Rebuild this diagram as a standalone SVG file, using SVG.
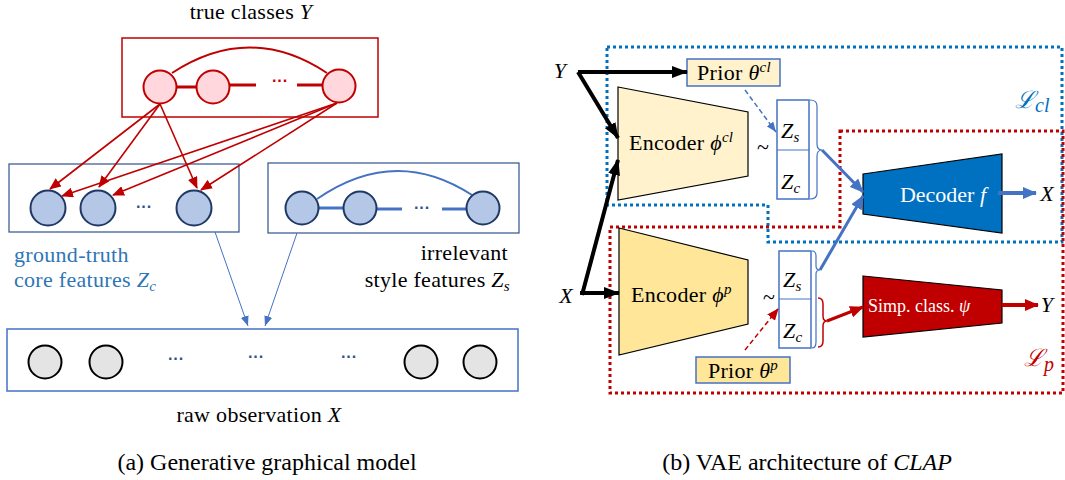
<svg xmlns="http://www.w3.org/2000/svg" width="1065" height="480" viewBox="0 0 1065 480">
<defs>
<style>
.t{font-family:"Liberation Serif",serif;font-size:22px;fill:#000;letter-spacing:0.3px}
.cap{font-family:"Liberation Serif",serif;font-size:24px;fill:#000}
.i{font-style:italic}
.sb{font-size:15px;font-style:italic}
.rc{fill:#FFD7DD;stroke:#C00000;stroke-width:2}
.bc{fill:#B4C7E7;stroke:#1F3864;stroke-width:2}
.gc{fill:#E4E4E4;stroke:#000;stroke-width:2}
.rl{stroke:#C00000;fill:none}
.bl{stroke:#4472C4;fill:none}
.blk{stroke:#000;fill:none;stroke-width:4}
.dotB{stroke:#0070C0;stroke-width:3;stroke-dasharray:3 3;fill:none}
.dotR{stroke:#C00000;stroke-width:3;stroke-dasharray:3 3;fill:none}
.zb{fill:#fff;stroke:#4472C4;stroke-width:1.5}
.dots{font-family:"Liberation Sans",sans-serif;font-size:16px;font-weight:bold;text-anchor:middle}
</style>
<marker id="ar" markerUnits="userSpaceOnUse" markerWidth="12" markerHeight="10" refX="11" refY="5" orient="auto"><path d="M0,0 L12,5 L0,10 z" fill="#C00000"/></marker>
<marker id="ab" markerUnits="userSpaceOnUse" markerWidth="10" markerHeight="8" refX="10" refY="4" orient="auto"><path d="M0,0 L10,4 L0,8 z" fill="#4472C4"/></marker>
<marker id="abb" markerUnits="userSpaceOnUse" markerWidth="14" markerHeight="12" refX="13" refY="6" orient="auto"><path d="M0,0 L14,6 L0,12 z" fill="#4472C4"/></marker>
<marker id="ak" markerUnits="userSpaceOnUse" markerWidth="16" markerHeight="12" refX="15" refY="6" orient="auto"><path d="M0,0 L16,6 L0,12 z" fill="#000"/></marker>
<marker id="arr" markerUnits="userSpaceOnUse" markerWidth="14" markerHeight="12" refX="13" refY="6" orient="auto"><path d="M0,0 L14,6 L0,12 z" fill="#C00000"/></marker>
</defs>

<!-- ===== Panel (a) ===== -->
<text class="t" x="251" y="19" text-anchor="middle">true classes <tspan class="i">Y</tspan></text>

<g id="true-classes">
<rect x="122" y="38" width="256" height="79" fill="none" stroke="#C00000" stroke-width="1.5"/>
<path class="rl" stroke-width="2" d="M172,73 Q250,22 327,73"/>
<line class="rl" x1="176" y1="87" x2="197" y2="87" stroke-width="3"/>
<line class="rl" x1="229" y1="85" x2="256" y2="85" stroke-width="3"/>
<line class="rl" x1="297" y1="85" x2="323" y2="85" stroke-width="3"/>
<circle class="rc" cx="160" cy="87" r="16.5"/>
<circle class="rc" cx="213" cy="87" r="16.5"/>
<circle class="rc" cx="339" cy="86" r="16.5"/>
<text class="dots" x="280" y="86" fill="#C00000">···</text>
</g>

<g id="core-features">
<rect x="9" y="164" width="230" height="68" fill="none" stroke="#2F528F" stroke-width="1.2"/>
<circle class="bc" cx="48" cy="208" r="17.5"/>
<circle class="bc" cx="98" cy="208" r="17.5"/>
<circle class="bc" cx="194" cy="208" r="17.5"/>
<text class="dots" x="144" y="212" fill="#2F528F">···</text>
<text class="t" x="14" y="262" style="fill:#2E75B6">ground-truth</text>
<text class="t" x="14" y="287" style="fill:#2E75B6">core features <tspan class="i">Z</tspan><tspan class="sb" dy="4">c</tspan></text>
</g>

<g id="style-features">
<rect x="268" y="163" width="251" height="70" fill="none" stroke="#2F528F" stroke-width="1.2"/>
<path class="bl" stroke-width="2" d="M317,199 Q395,145 472,195"/>
<line class="bl" x1="318" y1="208" x2="344" y2="208" stroke-width="3"/>
<line class="bl" x1="376" y1="209" x2="402" y2="209" stroke-width="3"/>
<line class="bl" x1="442" y1="209" x2="466" y2="209" stroke-width="3"/>
<circle class="bc" cx="302" cy="208" r="16.5"/>
<circle class="bc" cx="360" cy="208" r="16.5"/>
<circle class="bc" cx="483" cy="208" r="16.5"/>
<text class="dots" x="422" y="213" fill="#2F528F">···</text>
<text class="t" x="508" y="260" text-anchor="end">irrelevant</text>
<text class="t" x="510" y="287" text-anchor="end">style features <tspan class="i">Z</tspan><tspan class="sb" dy="4">s</tspan></text>
</g>

<g id="raw-observation">
<rect x="7" y="329" width="511" height="62" fill="none" stroke="#4472C4" stroke-width="1.5"/>
<circle class="gc" cx="45" cy="362" r="16.5"/>
<circle class="gc" cx="106" cy="362" r="16.5"/>
<circle class="gc" cx="421" cy="362" r="16.5"/>
<circle class="gc" cx="480" cy="362" r="16.5"/>
<text class="dots" x="176" y="364" fill="#2F528F">···</text>
<text class="dots" x="256" y="362" fill="#2F528F">···</text>
<text class="dots" x="349" y="362" fill="#2F528F">···</text>
<text class="t" x="259" y="422" text-anchor="middle">raw observation <tspan class="i">X</tspan></text>
</g>

<g id="connectors-a">
<g class="rl" stroke-width="1.6" marker-end="url(#ar)">
<line x1="160" y1="104" x2="50" y2="189"/>
<line x1="160" y1="104" x2="99" y2="187"/>
<line x1="160" y1="104" x2="197" y2="188"/>
<line x1="337" y1="103" x2="62" y2="196"/>
<line x1="337" y1="103" x2="113" y2="195"/>
<line x1="337" y1="103" x2="201" y2="190"/>
</g>
<g class="bl" stroke-width="1" marker-end="url(#ab)">
<line x1="215" y1="232" x2="248" y2="326"/>
<line x1="297" y1="233" x2="265" y2="326"/>
</g>
</g>

<text class="cap" x="267" y="470" text-anchor="middle">(a)  Generative graphical model</text>

<!-- ===== Panel (b) ===== -->
<g id="loss-cl">
<polygon class="dotB" points="607,47 1062,47 1062,242 768,242 768,205 607,205"/>
<text x="1015" y="108" font-family="DejaVu Serif,serif" font-style="italic" font-size="24" fill="#0070C0">ℒ<tspan font-family="Liberation Serif,serif" font-size="20" dy="4">cl</tspan></text>
</g>
<g id="loss-p">
<polygon class="dotR" points="840,131 1063,131 1063,393 610,393 610,227 840,227"/>
<text x="1024" y="366" font-family="DejaVu Serif,serif" font-style="italic" font-size="24" fill="#C00000">ℒ<tspan font-family="Liberation Serif,serif" font-size="20" dy="5">p</tspan></text>
</g>

<text class="t i" x="560" y="78" text-anchor="middle">Y</text>
<text class="t i" x="566" y="303" text-anchor="middle">X</text>

<g id="prior-cl">
<rect x="687" y="59" width="93" height="27" fill="#FFF2CC" stroke="#4472C4" stroke-width="1.5"/>
<text class="t" x="734" y="80" text-anchor="middle">Prior <tspan class="i">θ</tspan><tspan class="sb" dy="-8">cl</tspan></text>
</g>

<g id="encoder-cl">
<polygon points="618,87 748,112 748,176 618,200" fill="#FFF2CC" stroke="#000" stroke-width="1.2"/>
<text class="t" x="629" y="150">Encoder <tspan class="i">ϕ</tspan><tspan class="sb" dy="-8">cl</tspan></text>
<text class="t" x="763" y="154" text-anchor="middle">~</text>
</g>

<g id="z-cl">
<rect class="zb" x="777" y="100" width="32" height="99"/>
<line x1="777" y1="150" x2="809" y2="150" stroke="#4472C4" stroke-width="1"/>
<text class="t i" x="781" y="138">Z<tspan class="sb" dy="4">s</tspan></text>
<text class="t i" x="781" y="189">Z<tspan class="sb" dy="4">c</tspan></text>
<path class="bl" stroke-width="1.2" d="M810,100 Q817,100 817,106 L817,144 Q817,150 822,150 Q817,150 817,156 L817,193 Q817,199 810,199"/>
</g>

<g id="decoder">
<polygon points="863,174 1002,154 1002,233 863,214" fill="#0070C0" stroke="#000" stroke-width="1.2"/>
<text x="943" y="202" text-anchor="middle" font-family="Liberation Serif,serif" font-size="22" fill="#fff">Decoder <tspan class="i">f</tspan></text>
<text class="t i" x="1047" y="201" text-anchor="middle">X</text>
</g>

<g id="encoder-p">
<polygon points="619,228 748,260 748,324 619,355" fill="#FFE699" stroke="#000" stroke-width="1.2"/>
<text class="t" x="631" y="302">Encoder <tspan class="i">ϕ</tspan><tspan class="sb" dy="-8">p</tspan></text>
<text class="t" x="769" y="304" text-anchor="middle">~</text>
</g>

<g id="z-p">
<rect class="zb" x="779" y="251" width="32" height="97"/>
<line x1="779" y1="299" x2="811" y2="299" stroke="#4472C4" stroke-width="1"/>
<text class="t i" x="783" y="287">Z<tspan class="sb" dy="4">s</tspan></text>
<text class="t i" x="783" y="338">Z<tspan class="sb" dy="4">c</tspan></text>
<path class="bl" stroke-width="1.2" d="M812,251 Q816,251 816,256 L816,266 Q816,270 820,270 Q816,270 816,274 L816,342 Q816,348 812,348"/>
<path class="rl" stroke-width="1.5" d="M818,298 Q823,298 823,304 L823,316 Q823,321 827,321 Q823,321 823,326 L823,341 Q823,347 818,347"/>
</g>

<g id="prior-p">
<rect x="696" y="357" width="94" height="26" fill="#FFE699" stroke="#4472C4" stroke-width="1.5"/>
<text class="t" x="743" y="378" text-anchor="middle">Prior <tspan class="i">θ</tspan><tspan class="sb" dy="-8">p</tspan></text>
</g>

<g id="classifier">
<polygon points="863,276 1002,290 1002,323 863,337" fill="#C00000" stroke="#000" stroke-width="1.2"/>
<text x="868" y="312" font-family="Liberation Serif,serif" font-size="18" fill="#fff">Simp. class. <tspan class="i">ψ</tspan></text>
<text class="t i" x="1047" y="312" text-anchor="middle">Y</text>
</g>

<g id="connectors-b">
<line class="blk" x1="578" y1="72" x2="687" y2="72" marker-end="url(#ak)"/>
<line class="blk" x1="578" y1="72" x2="618" y2="138" marker-end="url(#ak)"/>
<line class="blk" x1="580" y1="293" x2="619" y2="293" marker-end="url(#ak)"/>
<line class="blk" x1="582" y1="295" x2="618" y2="160" marker-end="url(#ak)"/>
<line class="bl" x1="745" y1="90" x2="776" y2="132" stroke-width="1.5" stroke-dasharray="5 3" marker-end="url(#ab)"/>
<line class="rl" x1="745" y1="350" x2="778" y2="309" stroke-width="1.5" stroke-dasharray="5 3" marker-end="url(#ar)"/>
<line class="bl" x1="822" y1="150" x2="863" y2="192" stroke-width="3" marker-end="url(#abb)"/>
<line class="bl" x1="820" y1="270" x2="863" y2="196" stroke-width="3" marker-end="url(#abb)"/>
<line class="bl" x1="998" y1="193" x2="1036" y2="193" stroke-width="4" marker-end="url(#abb)"/>
<line class="rl" x1="827" y1="321" x2="863" y2="307" stroke-width="3" marker-end="url(#arr)"/>
<line class="rl" x1="1002" y1="305" x2="1038" y2="305" stroke-width="4" marker-end="url(#arr)"/>
</g>

<text class="cap" x="807" y="470" text-anchor="middle">(b)  VAE architecture of <tspan class="i">CLAP</tspan></text>
</svg>
